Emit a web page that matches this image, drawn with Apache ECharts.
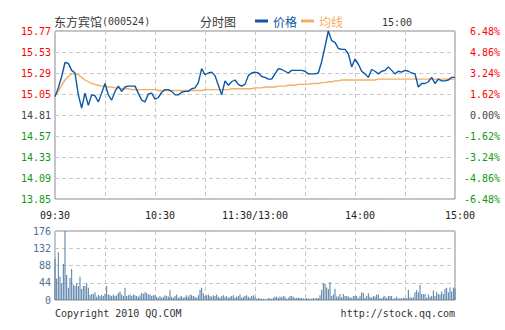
<!DOCTYPE html>
<html>
<head>
<meta charset="utf-8">
<script src="https://cdn.jsdelivr.net/npm/echarts@6/dist/echarts.min.js"></script>
<style>
  html, body { margin: 0; padding: 0; background: #fff; }
  #chart { width: 505px; height: 330px; }
</style>
</head>
<body>
<div id="chart"></div>
<script>
// 东方宾馆 (000524) intraday: price, running average and volume per minute.
const STOCK_NAME = '东方宾馆';
const STOCK_CODE = '000524';
const PREV_CLOSE = 14.81;

// Session time labels and the minute (from 09:30, lunch break removed) they sit at.
const timeLabels = ['09:30', '10:30', '11:30/13:00', '14:00', '15:00'];
const timeLabelMinutes = [0, 60, 120, 180, 240];

// Price sampled every 2 minutes, 09:30 .. 15:00 (121 points).
const PRICE_STEP = 2;
const price = [
  15.02, 15.12, 15.25, 15.41, 15.40, 15.32, 15.29, 15.04, 14.89, 15.06,
  14.92, 15.04, 15.03, 14.96, 15.06, 15.17, 15.04, 14.98, 15.08, 15.14,
  15.08, 15.13, 15.14, 15.14, 15.14, 15.06, 14.98, 14.96, 15.05, 15.06,
  14.99, 15.01, 15.07, 15.10, 15.10, 15.08, 15.04, 15.04, 15.07, 15.08,
  15.08, 15.11, 15.12, 15.18, 15.34, 15.27, 15.29, 15.30, 15.26, 15.15,
  15.04, 15.20, 15.15, 15.19, 15.21, 15.16, 15.14, 15.16, 15.26, 15.29,
  15.30,
  15.29, 15.25, 15.24, 15.22, 15.22, 15.28, 15.34, 15.33, 15.31,
  15.29, 15.32, 15.32, 15.32, 15.32, 15.31, 15.28, 15.28, 15.28, 15.29,
  15.42, 15.59, 15.77, 15.66, 15.64, 15.57, 15.56, 15.56, 15.51, 15.36,
  15.45, 15.39, 15.31, 15.28, 15.24, 15.33, 15.31, 15.28, 15.31, 15.32,
  15.36, 15.32, 15.28, 15.31, 15.30, 15.32, 15.31, 15.29, 15.28, 15.13,
  15.17, 15.17, 15.19, 15.24, 15.17, 15.22, 15.20, 15.20, 15.21, 15.24,
  15.24
];

// Running average price, same 2-minute sampling.
const avgPrice = [
  15.03, 15.08, 15.15, 15.21, 15.25, 15.28, 15.28, 15.27, 15.24, 15.21,
  15.19, 15.17, 15.16, 15.15, 15.14, 15.14, 15.13, 15.13, 15.12, 15.12,
  15.11, 15.11, 15.11, 15.10, 15.10, 15.10, 15.10, 15.10, 15.10, 15.10,
  15.10, 15.09, 15.09, 15.09, 15.09, 15.09, 15.09, 15.09, 15.09, 15.09,
  15.09, 15.09, 15.09, 15.09, 15.09, 15.10, 15.10, 15.10, 15.10, 15.10,
  15.10, 15.10, 15.10, 15.11, 15.11, 15.11, 15.11, 15.11, 15.11, 15.11,
  15.12,
  15.12, 15.12, 15.13, 15.13, 15.13, 15.13, 15.14, 15.14, 15.14,
  15.15, 15.15, 15.15, 15.16, 15.16, 15.16, 15.16, 15.17, 15.17, 15.17,
  15.18, 15.18, 15.19, 15.19, 15.20, 15.20, 15.21, 15.21, 15.21, 15.21,
  15.21, 15.21, 15.21, 15.21, 15.21, 15.21, 15.21, 15.22, 15.22, 15.22,
  15.22, 15.22, 15.22, 15.22, 15.22, 15.22, 15.22, 15.22, 15.22, 15.22,
  15.22, 15.22, 15.22, 15.22, 15.22, 15.22, 15.22, 15.22, 15.22, 15.22,
  15.22
];

// Volume (hands) for every minute, 241 bars.
const volume = [
  105, 55, 122, 59, 43, 92, 176, 64, 31, 56,
  79, 39, 36, 43, 36, 59, 28, 36, 36, 43,
  31, 13, 15, 15, 20, 8, 13, 10, 13, 10,
  16, 36, 14, 12, 10, 14, 10, 12, 18, 22,
  14, 10, 31, 10, 12, 14, 10, 14, 12, 10,
  8, 12, 18, 16, 20, 18, 14, 14, 10, 12,
  12, 8, 6, 10, 6, 8, 12, 10, 8, 25,
  8, 6, 10, 14, 6, 8, 10, 6, 8, 12,
  8, 14, 12, 10, 8, 6, 12, 26, 31, 17,
  10, 12, 14, 10, 8, 12, 10, 14, 8, 6,
  10, 12, 8, 10, 6, 8, 10, 12, 6, 8,
  10, 14, 6, 8, 10, 12, 8, 6, 10, 12,
  8,
  3, 5, 4, 3, 3, 2, 2, 5, 4, 3,
  6, 8, 8, 6, 9, 7, 10, 8, 3, 6,
  10, 10, 8, 5, 6, 6, 6, 5, 4, 3,
  5, 4, 3, 3, 5, 4, 5, 5, 12, 26,
  43, 41, 32, 28, 46, 10, 14, 29, 9, 9,
  15, 7, 15, 10, 10, 9, 7, 5, 10, 10,
  10, 5, 10, 20, 18, 6, 10, 17, 8, 6,
  10, 9, 14, 14, 5, 4, 8, 10, 5, 10,
  10, 10, 3, 5, 8, 4, 5, 4, 6, 6,
  5, 26, 7, 5, 7, 20, 25, 20, 38, 15,
  15, 15, 6, 14, 8, 10, 25, 10, 21, 15,
  14, 22, 15, 29, 31, 20, 32, 22, 32, 30
];

// Volume axis ticks.
const volumeTicks = [0, 44, 88, 132, 176];

const MONO = "'DejaVu Sans Mono', 'Noto Sans CJK SC', monospace";
const CJK = "'Noto Sans CJK SC', sans-serif";
const RED = '#ff0000';
const GREEN = '#119911';
const FLAT = '#444444';
const PRICE_BLUE = '#0b57a6';
const AVG_ORANGE = '#f5ad62';
const gridLine = () => ({ show: true, lineStyle: { color: '#c8c8c8', type: [4, 3], width: 1 } });
const noLine = { show: false };

// Price axis runs in cents relative to the previous close so ticks land on whole numbers.
const closeCents = Math.round(PREV_CLOSE * 100);
const toCents = p => Math.round(p * 100) - closeCents;
const priceRange = toCents(15.77);          // upper bound of the price axis
const priceStep = priceRange / 4;
const MINUTE_MAX = 240;
const MINUTE_STEP = 30;

const priceData = price.map((p, i) => [i * PRICE_STEP, toCents(p)]);
const avgData = avgPrice.map((p, i) => [i * PRICE_STEP, toCents(p)]);
const volumeData = volume.map((v, m) => [m, v]);

const labelColor = v => (v > 0 ? RED : v < 0 ? GREEN : FLAT);

// SVG output keeps every dashed guide independent of canvas state.
const chart = echarts.init(document.getElementById('chart'), null, { renderer: 'svg' });

chart.setOption({
  animation: false,
  backgroundColor: '#ffffff',
  title: [
    {
      text: '{cn|' + STOCK_NAME + '}{num|(' + STOCK_CODE + ')}',
      left: 54, top: 15, padding: 0,
      textStyle: {
        fontWeight: 'normal',
        rich: {
          cn: { fontFamily: CJK, fontSize: 12, fontWeight: 'normal', color: '#3a3a3a' },
          num: { fontFamily: MONO, fontSize: 10, fontWeight: 'normal', color: '#3a3a3a' }
        }
      }
    },
    {
      text: '分时图', left: 200, top: 15, padding: 0,
      textStyle: { fontFamily: CJK, fontSize: 12, fontWeight: 'normal', color: '#3a3a3a' }
    },
    {
      text: '15:00', left: 382, top: 17, padding: 0,
      textStyle: { fontFamily: MONO, fontSize: 10, fontWeight: 'normal', color: '#333' }
    },
    {
      text: 'Copyright 2010 QQ.COM', left: 55, top: 308, padding: 0,
      textStyle: { fontFamily: MONO, fontSize: 10, fontWeight: 'normal', color: '#333' }
    },
    {
      text: 'http://stock.qq.com', right: 50, top: 308, padding: 0,
      textStyle: { fontFamily: MONO, fontSize: 10, fontWeight: 'normal', color: '#333' }
    }
  ],
  legend: {
    left: 255, top: 15, padding: 0,
    icon: 'rect', itemWidth: 13, itemHeight: 3, itemGap: 4,
    selectedMode: false,
    textStyle: { fontFamily: CJK, fontSize: 12, fontWeight: 'normal' },
    data: [
      { name: '价格', textStyle: { color: PRICE_BLUE } },
      { name: '均线', textStyle: { color: AVG_ORANGE } }
    ]
  },
  grid: [
    { left: 55, top: 31, width: 400, height: 168, show: true, borderColor: '#888', borderWidth: 1, outerBoundsMode: 'none' },
    { left: 55, top: 231, width: 400, height: 69, show: true, borderColor: '#888', borderWidth: 1, outerBoundsMode: 'none' }
  ],
  xAxis: [
    {
      type: 'value', gridIndex: 0, min: 0, max: MINUTE_MAX, interval: MINUTE_STEP,
      axisLine: noLine, axisTick: noLine, splitLine: gridLine(),
      axisLabel: {
        show: true, margin: 11, fontFamily: MONO, fontSize: 10, color: '#222',
        customValues: timeLabelMinutes,
        showMinLabel: true, showMaxLabel: true,
        formatter: v => {
          const k = timeLabelMinutes.indexOf(Number(v));
          const t = timeLabels[k] || '';
          return (k === 0 || k === 2) ? '{c|' + t + '}' : '{r|' + t + '}';
        },
        rich: {
          c: { fontFamily: MONO, fontSize: 10, color: '#222' },
          r: { fontFamily: MONO, fontSize: 10, color: '#222', padding: [0, 0, 0, 10] }
        }
      }
    },
    {
      type: 'value', gridIndex: 1, min: 0, max: MINUTE_MAX, interval: MINUTE_STEP,
      axisLine: noLine, axisTick: noLine, axisLabel: noLine, splitLine: gridLine()
    }
  ],
  yAxis: [
    {
      type: 'value', gridIndex: 0, min: -priceRange, max: priceRange, interval: priceStep,
      axisLine: noLine, axisTick: noLine, splitLine: gridLine(),
      axisLabel: {
        margin: 4, fontFamily: MONO, fontSize: 10,
        showMinLabel: true, showMaxLabel: true,
        formatter: v => ((closeCents + v) / 100).toFixed(2),
        color: v => labelColor(Number(v))
      }
    },
    {
      type: 'value', gridIndex: 0, position: 'right',
      min: -priceRange, max: priceRange, interval: priceStep,
      axisLine: noLine, axisTick: noLine, splitLine: noLine,
      axisLabel: {
        margin: 45, align: 'right', fontFamily: MONO, fontSize: 10,
        showMinLabel: true, showMaxLabel: true,
        formatter: v => (v / closeCents * 100).toFixed(2) + '%',
        color: v => labelColor(Number(v))
      }
    },
    {
      type: 'value', gridIndex: 1,
      min: volumeTicks[0], max: volumeTicks[volumeTicks.length - 1],
      interval: volumeTicks[1] - volumeTicks[0],
      axisLine: noLine, axisTick: noLine,
      splitLine: gridLine(),
      axisLabel: {
        margin: 4, fontFamily: MONO, fontSize: 10, color: '#4d7098',
        showMinLabel: true, showMaxLabel: true
      }
    }
  ],
  series: [
    {
      name: '均线', type: 'line', xAxisIndex: 0, yAxisIndex: 0,
      data: avgData, showSymbol: false, symbol: 'none',
      lineStyle: { color: AVG_ORANGE, width: 1.4 }, itemStyle: { color: AVG_ORANGE }
    },
    {
      name: '价格', type: 'line', xAxisIndex: 0, yAxisIndex: 0,
      data: priceData, showSymbol: false, symbol: 'none',
      lineStyle: { color: PRICE_BLUE, width: 1.4 }, itemStyle: { color: PRICE_BLUE }
    },
    {
      name: '成交量', type: 'bar', xAxisIndex: 1, yAxisIndex: 2,
      data: volumeData, barWidth: 1, barGap: '0%',
      itemStyle: { color: '#4f7aa3' }
    }
  ]
});
</script>
</body>
</html>
